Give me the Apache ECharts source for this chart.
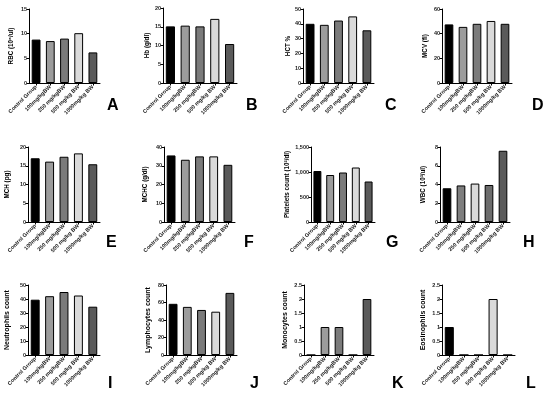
<!DOCTYPE html>
<html><head><meta charset="utf-8">
<script src="https://cdn.jsdelivr.net/npm/echarts@6/dist/echarts.min.js"></script>
<style>html,body{margin:0;padding:0;background:#fff}#c{width:550px;height:396px}</style>
</head><body><div id="c"></div>
<script>
const categories = ["Control Group", "100mg/kgBW", "250 mg/kgBW", "500 mg/kg BW", "1000mg/kg BW"];
const rbc = [8.8, 8.5, 9.0, 10.1, 6.2];
const hb = [15.1, 15.3, 15.1, 17.1, 10.4];
const hct = [40, 39.3, 42.2, 45, 35.6];
const mcv = [47.5, 45.5, 48, 50.3, 48];
const mch = [17, 16.1, 17.4, 18.3, 15.4];
const mchc = [35.5, 33.2, 35, 35, 30.5];
const platelets = [1020, 940, 990, 1090, 810];
const wbc = [3.6, 3.9, 4.1, 3.95, 7.6];
const neutrophils = [39.5, 42, 45, 42.5, 34.5];
const lymphocytes = [58.5, 55, 51.5, 49.5, 71];
const monocytes = [0, 1, 1, 0, 2];
const eosinophils = [1, 0, 0, 2, 0];
const yNames = ["RBC (10⁶/ul)", "Hb (g/dl)", "HCT %", "MCV (fl)", "MCH (pg)", "MCHC (g/dl)", "Platelets count (10³/dl)", "WBC (10³/ul)", "Neutrophils count", "Lymphocytes count", "Monocytes count", "Eosinophils count"];
const panelLetters = ["A", "B", "C", "D", "E", "F", "G", "H", "I", "J", "K", "L"];
const yMax = [15, 20, 50, 60, 20, 40, 1500, 8, 50, 80, 2.5, 2.5];
const yStep = [5, 5, 10, 20, 5, 10, 500, 2, 10, 20, 0.5, 0.5];
const seriesValues = [rbc, hb, hct, mcv, mch, mchc, platelets, wbc, neutrophils, lymphocytes, monocytes, eosinophils];
const barColors = ["#000000", "#9c9c9c", "#7b7b7b", "#dadada", "#5a5a5a"];
const barColorsH = ["#000000", "#7e7e7e", "#dadada", "#6c6c6c", "#5a5a5a"];

// layout: [left, right, top, bottom] in px of each plot area
const boxes = [
  [29, 100, 9, 83], [163, 237, 8, 83], [303, 374, 9, 83], [442, 512, 9, 83],
  [28, 100, 147, 222], [164, 235, 147, 222], [311, 375, 147, 222], [440, 510, 147, 222],
  [28, 100, 285, 355], [166, 237, 285, 355], [304, 374, 285, 355], [442, 515, 285, 355]
];
const nameGaps = [15, 13, 11, 14, 18, 16, 21, 14, 17, 14, 15, 15];
const letterPos = [[107, 98], [246, 98], [385, 98], [532, 98], [106, 235], [244, 235], [386, 235], [523, 235], [108, 376], [250, 376], [392, 376], [526, 376]];

const F = "'Liberation Sans', Arial, sans-serif";
const grids = [], xAxes = [], yAxes = [], series = [], graphics = [];
boxes.forEach((b, i) => {
  const row3 = i >= 8;
  grids.push({left: b[0], top: b[2], width: b[1] - b[0], height: b[3] - b[2], containLabel: false});
  xAxes.push({
    type: 'category', gridIndex: i, data: categories,
    axisLine: {lineStyle: {color: '#000', width: 1}},
    axisTick: {show: true, alignWithLabel: true, length: 2.5, lineStyle: {color: '#000'}},
    axisLabel: {rotate: 45, fontSize: 5.5, fontWeight: 'bold', color: '#222', fontFamily: F, margin: 3, interval: 0}
  });
  yAxes.push({
    type: 'value', gridIndex: i, min: 0, max: yMax[i], interval: yStep[i],
    name: yNames[i], nameLocation: 'middle', nameGap: nameGaps[i],
    nameTextStyle: {fontSize: row3 ? 7 : 6.3, fontWeight: 'bold', color: '#000', fontFamily: F},
    axisLine: {show: true, lineStyle: {color: '#000', width: 1}},
    axisTick: {show: true, length: 2.5, lineStyle: {color: '#000'}},
    axisLabel: {fontSize: 5.5, fontWeight: 'bold', color: '#222', fontFamily: F, margin: 2},
    splitLine: {show: false}
  });
  const cols = i === 7 ? barColorsH : barColors;
  series.push({
    type: 'bar', xAxisIndex: i, yAxisIndex: i, barCategoryGap: '38%',
    data: seriesValues[i].map((v, k) => ({value: v, itemStyle: {color: cols[k]}})),
    itemStyle: {borderColor: '#000', borderWidth: 1},
    silent: true, animation: false
  });
  graphics.push({type: 'text', left: letterPos[i][0], top: letterPos[i][1],
    style: {text: panelLetters[i], fontSize: 16, fontWeight: 'bold', fill: '#000', fontFamily: F}});
});

const chart = echarts.init(document.getElementById('c'), null, {renderer: 'canvas'});
chart.setOption({animation: false, grid: grids, xAxis: xAxes, yAxis: yAxes, series: series, graphic: graphics});
</script></body></html>
